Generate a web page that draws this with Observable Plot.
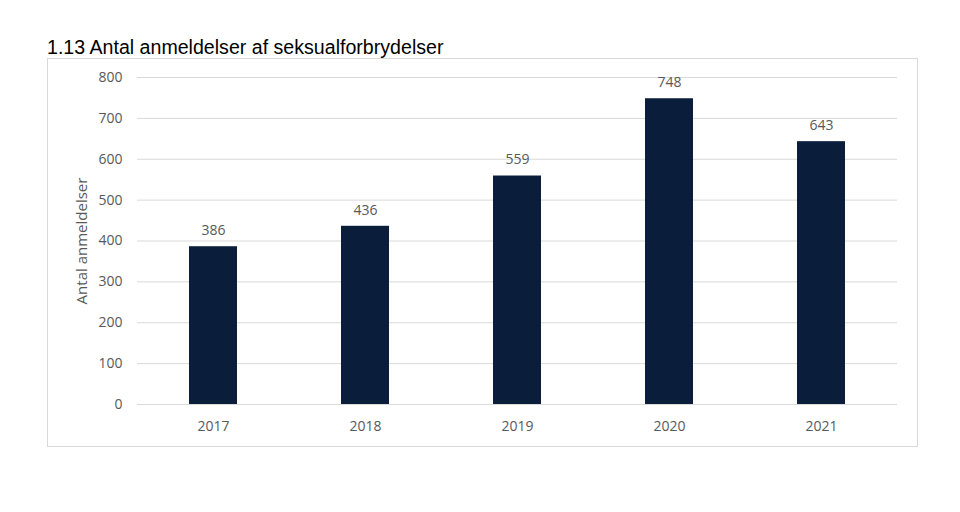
<!DOCTYPE html>
<html><head><meta charset="utf-8">
<script src="https://cdn.jsdelivr.net/npm/d3@7"></script>
<script src="https://cdn.jsdelivr.net/npm/@observablehq/plot@0.6"></script>
<style>
body{margin:0;background:#fff;width:960px;height:512px;position:relative;overflow:hidden}
#title{position:absolute;left:47px;top:35px;font-family:"Liberation Sans",Arial,sans-serif;font-size:19.6px;color:#000;white-space:nowrap;line-height:24px}
#box{position:absolute;left:47px;top:58px;width:871px;height:389px;border:1px solid #d9d9d9;box-sizing:border-box}
#chart{position:absolute;left:0;top:0}
</style></head><body>
<div id="box"></div>
<div id="title">1.13 Antal anmeldelser af seksualforbrydelser</div>
<div id="chart"></div>
<script>
const years = ["2017","2018","2019","2020","2021"];
const counts = [386, 436, 559, 748, 643];
const yTicks = [0,100,200,300,400,500,600,700,800];
const yLabel = "Antal anmeldelser";
const data = years.map((y,i)=>({year:y, value:counts[i]}));
const font = "'Open Sans', 'Noto Sans', sans-serif";
const chart = Plot.plot({
  width:960, height:512,
  marginLeft:137, marginRight:63, marginTop:77, marginBottom:108,
  style:{fontFamily:font, fontSize:"13px", color:"#595959", background:"transparent"},
  x:{domain:years, paddingInner:0.684, paddingOuter:0.342, label:null, tickSize:0, tickPadding:17},
  y:{domain:[0,800], ticks:yTicks, label:null, tickSize:0, tickPadding:15},
  marks:[
    Plot.gridY(yTicks,{stroke:"#d9d9d9", strokeOpacity:1, strokeWidth:1}),
    Plot.barY(data,{x:"year", y:"value", fill:"#0a1e3c"}),
    Plot.text(data,{x:"year", y:"value", text:d=>String(d.value), dy:-16, fill:"#595959", fontSize:14}),
    Plot.axisY({ticks:yTicks, tickSize:0, tickPadding:15, fontSize:14, label:null}),
    Plot.axisX({tickSize:0, tickPadding:17, fontSize:14, label:null}),
    Plot.text([yLabel],{frameAnchor:"left", textAnchor:"middle", dx:-55, rotate:-90, fontSize:15, fill:"#595959", text:d=>d})
  ]
});
document.getElementById("chart").appendChild(chart);
</script>
</body></html>
